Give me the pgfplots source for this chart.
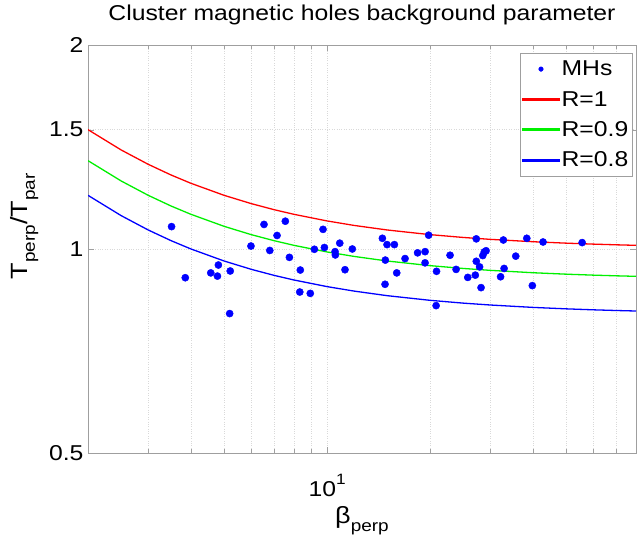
\documentclass[border=0pt]{standalone}
\usepackage{fontspec}
\setmainfont{Liberation Sans}
\usepackage{graphicx}
\usepackage{pgfplots}
\pgfplotsset{compat=1.18}
\newcommand\sx[1]{\scalebox{1.15}[1]{#1}}
\newcommand\sub[1]{\raisebox{-0.34em}{\fontsize{16.5bp}{16.5bp}\selectfont #1}}
\newcommand\fs{\fontsize{21.5bp}{25bp}\selectfont}
\newcommand\fl{\fontsize{23.5bp}{27bp}\selectfont}
\definecolor{mred}{RGB}{255,0,0}
\definecolor{mgreen}{RGB}{0,240,0}
\definecolor{mblue}{RGB}{0,0,255}
\pgfplotsset{
  linelegend/.style={legend image code/.code={\fill[color=#1] (0bp,-0.9bp) rectangle (37bp,0.9bp);}},
  marklegend/.style={legend image code/.code={\path (0bp,0bp) (37bp,0bp); \fill[color=mblue] (18.5bp,0bp) circle[radius=2.3bp];}},
}
\pgfplotstableread{
x y
3.51 1.079
3.85 0.907
4.57 0.922
4.81 0.947
4.78 0.912
5.21 0.928
5.19 0.803
5.99 1.010
6.54 1.087
6.80 0.995
7.14 1.047
7.55 1.099
7.76 0.972
8.35 0.931
8.32 0.864
8.93 0.860
9.18 0.999
9.73 1.069
9.82 1.005
10.55 0.991
10.57 0.980
10.89 1.020
11.28 0.932
11.85 1.000
14.51 1.037
14.97 1.015
15.73 1.015
14.80 0.963
14.77 0.887
15.98 0.922
16.90 0.968
18.39 0.987
19.34 0.991
19.34 0.954
19.81 1.048
20.89 0.927
20.83 0.825
22.88 0.979
23.83 0.933
25.78 0.908
27.12 0.915
27.30 1.035
27.30 0.959
27.91 0.941
28.19 0.877
28.52 0.978
28.81 0.990
29.16 0.994
32.15 0.910
32.92 0.936
32.76 1.031
35.61 0.976
38.36 1.037
39.82 0.883
42.79 1.024
55.67 1.022
}\mhs
\pgfplotstableread{
x r1 r09 r08
2   1.5000 1.3500 1.2000
2.5 1.4000 1.2600 1.1200
3   1.3333 1.2000 1.0667
3.5 1.2857 1.1571 1.0286
4   1.2500 1.1250 1.0000
5   1.2000 1.0800 0.9600
6   1.1667 1.0500 0.9333
7   1.1429 1.0286 0.9143
8   1.1250 1.0125 0.9000
10  1.1000 0.9900 0.8800
12  1.0833 0.9750 0.8667
15  1.0667 0.9600 0.8533
20  1.0500 0.9450 0.8400
25  1.0400 0.9360 0.8320
30  1.0333 0.9300 0.8267
40  1.0250 0.9225 0.8200
50  1.0200 0.9180 0.8160
60  1.0167 0.9150 0.8133
70  1.0143 0.9129 0.8114
80  1.0125 0.9113 0.8100
}\curves
\begin{document}
\begin{tikzpicture}
\begin{axis}[
  name=ax,
  scale only axis, width=548bp, height=408bp,
  xmode=log, ymode=log,
  xmin=2, xmax=80, ymin=0.5, ymax=2,
  xtick={10}, xticklabels={\sx{10\raisebox{0.55em}{\fontsize{15bp}{15bp}\selectfont 1}}},
  minor xtick={3,4,5,6,7,8,9,20,30,40,50,60,70},
  ytick={0.5,1,1.5,2}, yticklabels={\sx{0.5},\sx{1},\sx{1.5},\sx{2}},
  yminorticks=false,
  xmajorgrids, xminorgrids, ymajorgrids,
  major grid style={dotted, gray!30},
  minor grid style={dotted, gray!30},
  axis line style={gray!75},
  tick style={gray!75},
  tick align=inside, major tick length=6bp, minor tick length=4bp,
  ticklabel style={font=\fs},
  xticklabel style={anchor=base, yshift=-43bp},
  yticklabel style={anchor=east, xshift=-1bp},
  title={\sx{Cluster magnetic holes background parameter}},
  title style={font=\fs, at={(axis description cs:0.5,1)}, anchor=base, yshift=19bp},
  xlabel={\sx{β\sub{perp}}},
  xlabel style={font=\fl, at={(axis description cs:0.5,-0.173)}, anchor=base},
  ylabel={\sx{T\sub{perp}/T\sub{par}}},
  ylabel style={font=\fl, at={(axis description cs:-0.1113,0.556)}, anchor=base, rotate=0},
  legend style={at={(axis description cs:0.9927,0.981)}, anchor=north east,
    draw=gray!75, font=\fs, legend cell align=left,
    nodes={inner xsep=1.5bp},
    row sep=10bp, inner xsep=2bp, inner ysep=6bp},
]
\addplot[only marks, mark=*, mark size=3.6bp, color=mblue, marklegend]
  table[x=x,y=y] {\mhs};
\addlegendentry{\sx{MHs}}
\addplot[mred, line width=1.3bp, linelegend=mred]
  table[x=x,y=r1] {\curves};
\addlegendentry{\sx{R=1}}
\addplot[mgreen, line width=1.3bp, linelegend=mgreen]
  table[x=x,y=r09] {\curves};
\addlegendentry{\sx{R=0.9}}
\addplot[mblue, line width=1.3bp, linelegend=mblue]
  table[x=x,y=r08] {\curves};
\addlegendentry{\sx{R=0.8}}
\end{axis}
\pgfresetboundingbox
\useasboundingbox ([xshift=-88bp,yshift=-83bp]ax.south west) rectangle ([xshift=1bp,yshift=45bp]ax.north east);
\end{tikzpicture}
\end{document}
